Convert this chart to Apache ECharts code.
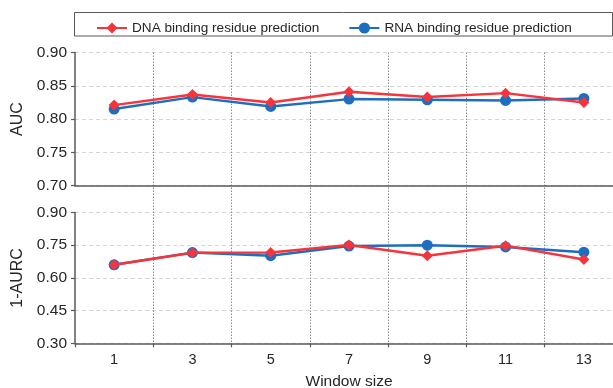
<!DOCTYPE html>
<html>
<head>
<meta charset="utf-8">
<script src="https://cdn.jsdelivr.net/npm/echarts@6/dist/echarts.min.js"></script>
<style>html,body{margin:0;padding:0;background:#fff}#c{width:613px;height:388px}</style>
</head>
<body>
<div id="c"></div>
<script>
const windowSizes = ['1', '3', '5', '7', '9', '11', '13'];
const dnaAUC  = [0.821, 0.837, 0.825, 0.841, 0.833, 0.839, 0.825];
const rnaAUC  = [0.815, 0.833, 0.819, 0.830, 0.829, 0.828, 0.831];
const dnaAURC = [0.660, 0.715, 0.716, 0.751, 0.702, 0.748, 0.684];
const rnaAURC = [0.660, 0.716, 0.702, 0.746, 0.750, 0.742, 0.718];
const dnaName = 'DNA binding residue prediction';
const rnaName = 'RNA binding residue prediction';

const RED = '#f7343c', BLUE = '#1f6dbf', AX = '#595959', TXT = '#262626';
const FONT = 'Liberation Sans, Arial, sans-serif';

const chart = echarts.init(document.getElementById('c'), null, {renderer: 'canvas'});

function yAxis(gi, min, max, step, name) {
  return {
    type: 'value', gridIndex: gi, min: min, max: max, interval: step,
    name: name, nameLocation: 'middle', nameGap: 46, nameRotate: 90,
    nameTextStyle: {fontSize: 16, color: TXT, fontFamily: FONT},
    axisLine: {show: true, lineStyle: {color: AX, width: 1.5}},
    axisTick: {show: true, length: 4, lineStyle: {color: AX, width: 1.2}},
    axisLabel: {fontSize: 15.5, color: TXT, fontFamily: FONT, margin: 8,
      formatter: v => v.toFixed(2)},
    splitLine: {show: true, lineStyle: {color: '#d6d6d6', type: [4, 3], width: 1}}
  };
}

const GW = 548;
const option = {
  animation: false,
  backgroundColor: '#fff',
  graphic: [{
    type: 'rect', shape: {x: 74.5, y: 12.5, width: 538, height: 23.5},
    style: {fill: 'none', stroke: AX, lineWidth: 1}, z: 0
  }],
  legend: {
    data: [dnaName, rnaName], left: 91, top: 16, itemWidth: 30, itemHeight: 14,
    itemGap: 29, textStyle: {fontSize: 13.6, color: TXT, fontFamily: FONT}
  },
  grid: [
    {left: 75, width: GW, top: 52.5, height: 133.2, outerBoundsMode: 'none', containLabel: false},
    {left: 75, width: GW, top: 212.5, height: 130.8, outerBoundsMode: 'none', containLabel: false},
    {left: 75, width: GW, top: 52.5, height: 290.8, outerBoundsMode: 'none', containLabel: false}
  ],
  xAxis: [
    {type: 'category', gridIndex: 0, data: windowSizes, boundaryGap: true,
     axisLine: {lineStyle: {color: AX, width: 1.5}}, axisTick: {show: false},
     axisLabel: {show: false}, splitLine: {show: false}},
    {type: 'category', gridIndex: 1, data: windowSizes, boundaryGap: true,
     name: 'Window size', nameLocation: 'middle', nameGap: 30,
     nameTextStyle: {fontSize: 15.5, color: TXT, fontFamily: FONT},
     axisLine: {lineStyle: {color: AX, width: 1.5}},
     axisTick: {show: true, length: 4, lineStyle: {color: AX, width: 1.2}},
     axisLabel: {fontSize: 14.5, color: TXT, fontFamily: FONT, margin: 9},
     splitLine: {show: false}},
    {type: 'value', gridIndex: 2, min: 0, max: windowSizes.length, interval: 1,
     axisLine: {show: false}, axisTick: {show: false}, axisLabel: {show: false},
     splitLine: {show: true, showMinLine: false, showMaxLine: false,
       lineStyle: {color: '#8c8c8c', type: [1.5, 1.5], width: 1}}}
  ],
  yAxis: [
    yAxis(0, 0.70, 0.90, 0.05, 'AUC'),
    yAxis(1, 0.30, 0.90, 0.15, '1-AURC'),
    {type: 'value', gridIndex: 2, show: false, splitLine: {show: false}}
  ],
  series: [
    {name: rnaName, type: 'line', xAxisIndex: 0, yAxisIndex: 0, data: rnaAUC,
     symbol: 'circle', symbolSize: 11, color: BLUE, lineStyle: {width: 2.5}, z: 3},
    {name: dnaName, type: 'line', xAxisIndex: 0, yAxisIndex: 0, data: dnaAUC,
     symbol: 'diamond', symbolSize: 11, color: RED, lineStyle: {width: 2.5}, z: 4},
    {name: rnaName, type: 'line', xAxisIndex: 1, yAxisIndex: 1, data: rnaAURC,
     symbol: 'circle', symbolSize: 11, color: BLUE, lineStyle: {width: 2.5}, z: 3},
    {name: dnaName, type: 'line', xAxisIndex: 1, yAxisIndex: 1, data: dnaAURC,
     symbol: 'diamond', symbolSize: 11, color: RED, lineStyle: {width: 2.5}, z: 4}
  ]
};
chart.setOption(option);
</script>
</body>
</html>
